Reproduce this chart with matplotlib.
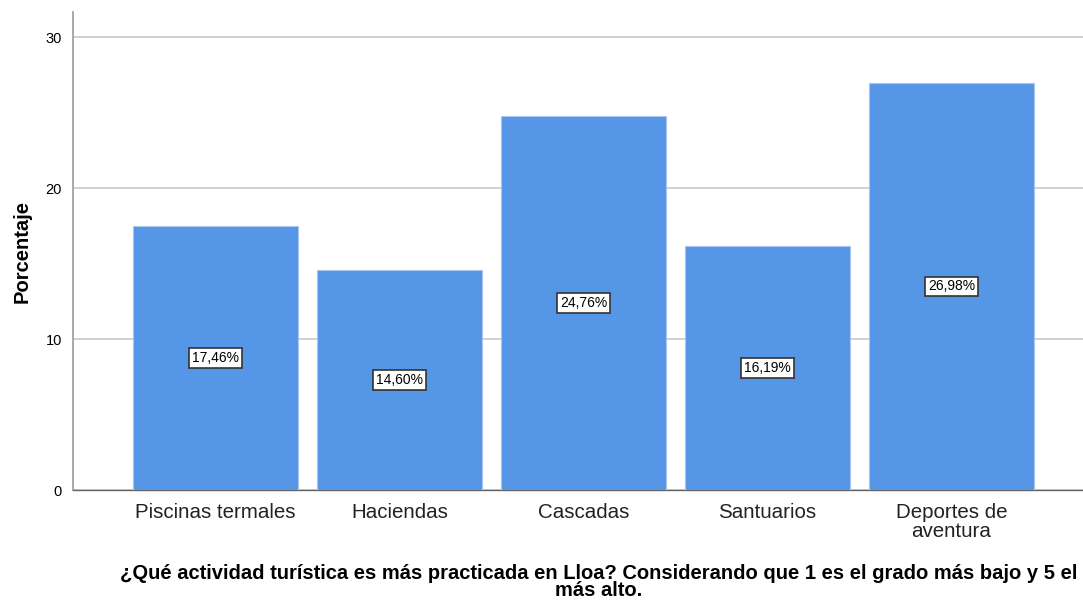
import matplotlib.pyplot as plt
import numpy as np

plt.rcParams['font.family'] = ['Liberation Sans', 'DejaVu Sans']

categories = ['Piscinas termales', 'Haciendas', 'Cascadas', 'Santuarios', 'Deportes de\naventura']
porcentajes = [17.46, 14.60, 24.76, 16.19, 26.98]
etiquetas = ['17,46%', '14,60%', '24,76%', '16,19%', '26,98%']
yticks = [0, 10, 20, 30]

fig = plt.figure(figsize=(10.83, 6.04), dpi=100)
ax = fig.add_axes([0.0674, 0.1887, 0.9326, 0.7913])

x = np.arange(len(categories))
ax.bar(x, porcentajes, width=0.897, color='#5596E6', edgecolor='#A9C8F0', linewidth=0.8, zorder=3)

for xi, v, t in zip(x, porcentajes, etiquetas):
    ax.text(xi, v / 2, t, ha='center', va='center', fontsize=10, zorder=4,
            bbox=dict(boxstyle='square,pad=0.2', facecolor='white', edgecolor='#333333', linewidth=1.2))

ax.set_xlim(-0.774, 4.715)
ax.set_ylim(0, 31.66)
ax.set_yticks(yticks)
ax.set_xticks(x)
ax.set_xticklabels(categories, fontsize=14.8, color='#222222', linespacing=1.0)
ax.tick_params(axis='both', length=0)
ax.tick_params(axis='y', labelsize=10.5, pad=8)
ax.tick_params(axis='x', pad=9)
ax.yaxis.grid(True, color='#C8C8C8', linewidth=1.2, zorder=0)

for s in ['top', 'right']:
    ax.spines[s].set_visible(False)
ax.spines['left'].set_color('#999999')
ax.spines['left'].set_linewidth(1.2)
ax.spines['bottom'].set_color('#666666')
ax.spines['bottom'].set_linewidth(1.0)

ax.set_ylabel('Porcentaje', fontsize=14.5, fontweight='bold', labelpad=10)
ax.set_xlabel('¿Qué actividad turística es más practicada en Lloa? Considerando que 1 es el grado más bajo y 5 el\nmás alto.',
              fontsize=14.5, fontweight='bold', labelpad=17, linespacing=0.85)
ax.xaxis.label.set_x(0.5208)

fig.savefig('out.png', dpi=100)
